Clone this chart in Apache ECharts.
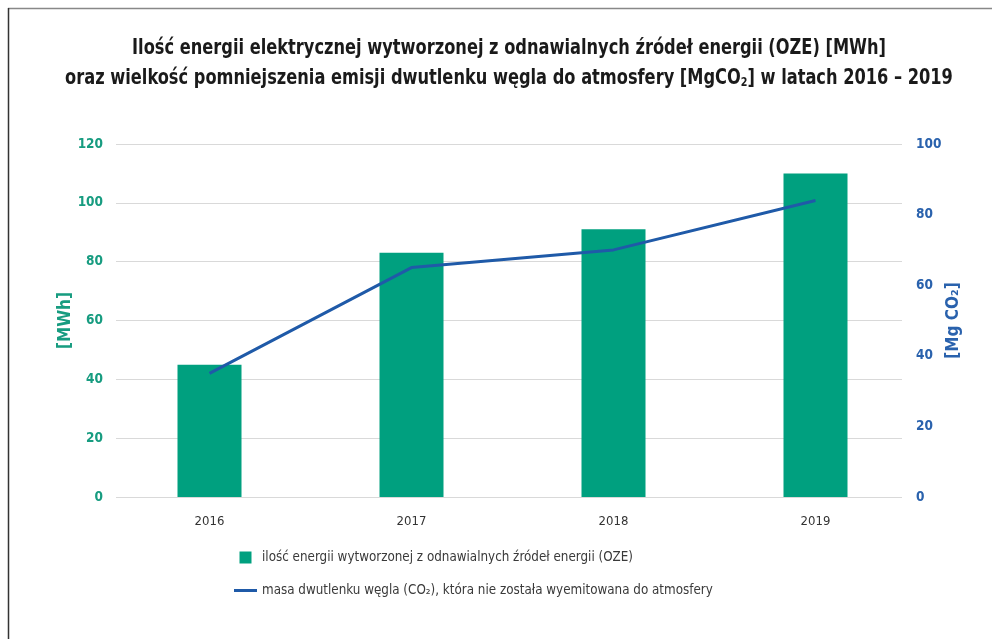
<!DOCTYPE html>
<html>
<head>
<meta charset="utf-8">
<script src="https://cdn.jsdelivr.net/npm/echarts@6/dist/echarts.min.js"></script>
<style>
  html, body { margin: 0; padding: 0; background: #fff; }
  #chart { width: 992px; height: 639px; }
</style>
</head>
<body>
<div id="chart"></div>
<script>
const years = ['2016', '2017', '2018', '2019']
const energyMWh = [45, 83, 91, 110]
const co2Saved = [35, 65, 70, 84]
const seriesNames = [
  'ilość energii wytworzonej z odnawialnych źródeł energii (OZE)',
  'masa dwutlenku węgla (CO₂), która nie została wyemitowana do atmosfery'
]
const titleLines = [
  'Ilość energii elektrycznej wytworzonej z odnawialnych źródeł energii (OZE) [MWh]',
  'oraz wielkość pomniejszenia emisji dwutlenku węgla do atmosfery [MgCO{sub|2}] w latach 2016 – 2019'
]

const FONT = '"DejaVu Sans Condensed", "Roboto", sans-serif'
const TEAL = '#00a07f'
const TEAL_TXT = '#179c80'
const BLUE = '#1f5aa8'
const BLUE_TXT = '#2a62ad'

// title is drawn as graphic text so it can be squeezed to the condensed look
const titleText = (str, y) => ({
  type: 'text',
  x: 509, y: y,
  originX: 0, originY: 0,
  scaleX: 0.82,
  style: {
    text: str,
    font: 'bold 22px ' + FONT,
    fill: '#1a1a1a',
    textAlign: 'center',
    textVerticalAlign: 'middle',
    rich: {
      sub: { font: 'bold 13px ' + FONT, fill: '#1a1a1a', padding: [9, 0, 0, 0] }
    }
  }
})

const chart = echarts.init(document.getElementById('chart'))
chart.setOption({
  backgroundColor: '#fff',
  animation: false,
  graphic: [
    { type: 'line', shape: { x1: 8, y1: 8.5, x2: 992, y2: 8.5 }, style: { stroke: '#888', lineWidth: 1.5 } },
    { type: 'line', shape: { x1: 8.5, y1: 8, x2: 8.5, y2: 639 }, style: { stroke: '#333', lineWidth: 1.5 } },
    titleText(titleLines[0], 48),
    titleText(titleLines[1], 78)
  ],
  legend: {
    orient: 'vertical',
    left: 229,
    top: 546,
    itemWidth: 23,
    itemHeight: 12,
    itemGap: 20,
    textStyle: { fontFamily: FONT, fontSize: 13.3, color: '#3a3a3a' },
    data: [
      { name: seriesNames[0], icon: 'path://M0,0h11v11h-11z' },
      { name: seriesNames[1], icon: 'path://M0,0h23v3h-23z' }
    ]
  },
  grid: [
    { left: 116, right: 90, top: 144, bottom: 142 },
    { left: 108.5, right: 75.5, top: 144, bottom: 142 }
  ],
  xAxis: [
    { gridIndex: 0, type: 'value', min: 0, max: 1, show: false },
    {
      gridIndex: 1,
      type: 'category',
      data: years,
      axisLine: { show: false },
      axisTick: { show: false },
      axisLabel: { margin: 18, fontFamily: FONT, fontSize: 13, color: '#333' }
    }
  ],
  yAxis: [
    {
      gridIndex: 0,
      type: 'value',
      position: 'left',
      min: 0, max: 120, interval: 20,
      name: '[MWh]',
      nameLocation: 'middle',
      nameRotate: 90,
      nameGap: 42,
      nameMoveOverlap: false,
      nameTextStyle: { fontFamily: FONT, fontWeight: 'bold', fontSize: 17, color: TEAL_TXT },
      axisLine: { show: false },
      axisTick: { show: false },
      axisLabel: { margin: 13, fontFamily: FONT, fontWeight: 'bold', fontSize: 13.5, color: TEAL_TXT },
      splitLine: { lineStyle: { color: '#d9d9d9', width: 1 } }
    },
    {
      gridIndex: 0,
      type: 'value',
      position: 'right',
      min: 0, max: 100, interval: 20,
      name: '[Mg CO₂]',
      nameLocation: 'middle',
      nameRotate: 90,
      nameGap: 43,
      nameMoveOverlap: false,
      nameTextStyle: { fontFamily: FONT, fontWeight: 'bold', fontSize: 17, color: BLUE_TXT },
      axisLine: { show: false },
      axisTick: { show: false },
      axisLabel: { margin: 14, fontFamily: FONT, fontWeight: 'bold', fontSize: 13.5, color: BLUE_TXT },
      splitLine: { show: false }
    },
    { gridIndex: 1, type: 'value', min: 0, max: 120, show: false },
    { gridIndex: 1, type: 'value', min: 0, max: 100, show: false }
  ],
  series: [
    {
      name: seriesNames[0],
      type: 'bar',
      xAxisIndex: 1,
      yAxisIndex: 2,
      barWidth: 64,
      itemStyle: { color: TEAL },
      data: energyMWh
    },
    {
      name: seriesNames[1],
      type: 'line',
      xAxisIndex: 1,
      yAxisIndex: 3,
      symbol: 'none',
      lineStyle: { color: BLUE, width: 3 },
      itemStyle: { color: BLUE },
      data: co2Saved
    }
  ]
})
</script>
</body>
</html>
